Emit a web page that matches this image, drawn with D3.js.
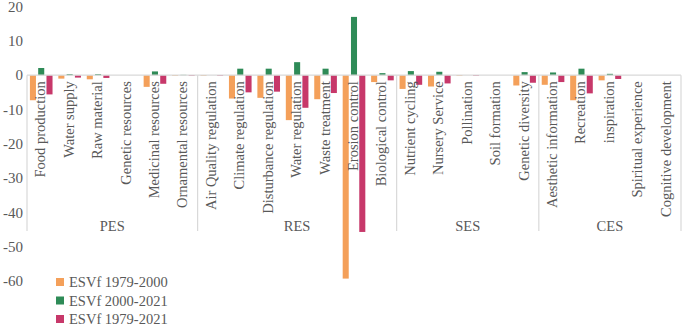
<!DOCTYPE html>
<html>
<head>
<meta charset="utf-8">
<script src="https://cdn.jsdelivr.net/npm/d3@7"></script>
<style>
  body { margin: 0; background: #fff; }
  text { font-family: "Liberation Serif", "Times New Roman", serif; fill: #595959; }
</style>
</head>
<body>
<div id="chart"></div>
<script>
// groups and their categories
const groups = ["PES", "RES", "SES", "CES"];
const categories = [
  ["PES", "Food production"], ["PES", "Water supply"], ["PES", "Raw material"],
  ["PES", "Genetic resources"], ["PES", "Medicinal resources"], ["PES", "Ornamental resources"],
  ["RES", "Air Quality regulation"], ["RES", "Climate regulation"], ["RES", "Disturbance regulation"],
  ["RES", "Water regulation"], ["RES", "Waste treatment"], ["RES", "Erosion control"],
  ["RES", "Biological control"],
  ["SES", "Nutrient cycling"], ["SES", "Nursery Service"], ["SES", "Pollination"],
  ["SES", "Soil formation"], ["SES", "Genetic diversity"],
  ["CES", "Aesthetic information"], ["CES", "Recreation"], ["CES", "inspiration"],
  ["CES", "Spiritual experience"], ["CES", "Cognitive development"]
];
const seriesNames = ["ESVf 1979-2000", "ESVf 2000-2021", "ESVf 1979-2021"];
const esv7900 = [-7.3, -1.0, -1.2, 0, -3.4, -0.2, -0.2, -6.8, -6.6, -13.1, -7.0, -59.3, -2.0,
                 -4.0, -3.3, -0.2, 0, -3.0, -2.8, -7.3, -1.5, 0, 0];
const esv0021 = [2.1, 0.3, 0.3, 0, 1.1, 0.1, 0, 1.9, 1.9, 3.8, 1.9, 17.0, 0.6,
                 1.2, 1.0, 0, 0, 0.9, 0.8, 1.9, 0.4, 0, 0];
const esv7921 = [-5.6, -0.7, -0.8, 0, -2.5, -0.2, -0.2, -5.0, -4.8, -9.5, -5.2, -45.7, -1.5,
                 -2.8, -2.4, -0.2, 0, -2.2, -2.0, -5.3, -1.1, 0, 0];
const yTicks = [20, 10, 0, -10, -20, -30, -40, -50, -60];
const colors = ["#f4a05a", "#2e8b57", "#c7386a"];

const width = 685, height = 327;
const left = 27, right = 681;

const svg = d3.select("#chart").append("svg")
  .attr("width", width)
  .attr("height", height);

const y = d3.scaleLinear().domain([-60, 20]).range([281, 6.6]);

const x0 = d3.scaleBand()
  .domain(categories.map(d => d[1]))
  .range([left, right])
  .padding(0);

const x1 = d3.scaleBand()
  .domain(seriesNames)
  .range([0, x0.bandwidth()])
  .paddingInner(0.27)
  .paddingOuter(0.35);

// y axis labels (no line)
svg.append("g")
  .selectAll("text")
  .data(yTicks)
  .join("text")
  .attr("x", 23)
  .attr("y", d => y(d))
  .attr("dy", "0.35em")
  .attr("text-anchor", "end")
  .style("font-size", "15px")
  .text(d => d);

// bars
const rows = categories.map((c, i) => ({
  name: c[1],
  vals: [esv7900[i], esv0021[i], esv7921[i]]
}));

const catG = svg.append("g")
  .selectAll("g")
  .data(rows)
  .join("g")
  .attr("transform", d => `translate(${x0(d.name)},0)`);

catG.selectAll("rect")
  .data(d => d.vals.map((v, j) => ({ key: seriesNames[j], v: v, j: j })))
  .join("rect")
  .attr("x", d => x1(d.key))
  .attr("width", x1.bandwidth())
  .attr("y", d => y(Math.max(0, d.v)))
  .attr("height", d => Math.abs(y(d.v) - y(0)))
  .attr("fill", d => colors[d.j]);

// category axis line
svg.append("line")
  .attr("x1", left).attr("x2", right)
  .attr("y1", y(0)).attr("y2", y(0))
  .attr("stroke", "#d9d9d9")
  .attr("stroke-width", 1.2);

// category labels, rotated
catG.append("text")
  .attr("transform", d => `translate(${x0.bandwidth() / 2 + 4},${y(0) + 6}) rotate(-90)`)
  .attr("text-anchor", "end")
  .style("font-size", "14.5px")
  .text(d => d.name);

// group separators and labels
const groupInfo = groups.map(g => {
  const members = categories.filter(c => c[0] === g).map(c => c[1]);
  const start = x0(members[0]);
  const end = x0(members[members.length - 1]) + x0.bandwidth();
  return { g, start, end };
});

const sepX = [left].concat(groupInfo.map(d => d.end));
svg.append("g")
  .selectAll("line")
  .data(sepX)
  .join("line")
  .attr("x1", d => d).attr("x2", d => d)
  .attr("y1", y(0)).attr("y2", 231)
  .attr("stroke", "#d9d9d9")
  .attr("stroke-width", 1.2);

svg.append("g")
  .selectAll("text")
  .data(groupInfo)
  .join("text")
  .attr("x", d => (d.start + d.end) / 2)
  .attr("y", 226)
  .attr("dy", "0.35em")
  .attr("text-anchor", "middle")
  .style("font-size", "14.5px")
  .text(d => d.g);

// legend
const legend = svg.append("g")
  .selectAll("g")
  .data(seriesNames)
  .join("g")
  .attr("transform", (d, i) => `translate(56,${282 + i * 18.5})`);

legend.append("rect")
  .attr("x", 0).attr("y", -4)
  .attr("width", 8).attr("height", 8)
  .attr("fill", (d, i) => colors[i]);

legend.append("text")
  .attr("x", 13)
  .attr("dy", "0.35em")
  .style("font-size", "14.5px")
  .text(d => d);
</script>
</body>
</html>
